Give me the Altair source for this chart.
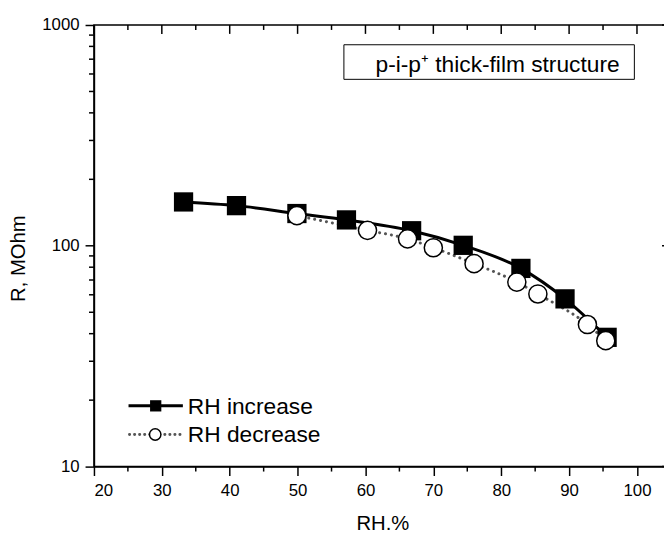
import altair as alt
import pandas as pd

# ---- data ----
inc_rh = [33.2, 41.0, 49.9, 57.2, 66.8, 74.4, 82.9, 89.4, 95.6]
inc_r = [158, 152, 140, 131, 117, 100.5, 79, 57.5, 38.5]
dec_rh = [49.9, 60.3, 66.2, 70.0, 76.0, 82.3, 85.4, 92.7, 95.4]
dec_r = [137, 117.5, 107.5, 98, 83, 68.5, 60.5, 44, 37.2]

legend_labels = ["RH increase", "RH decrease"]
box_label = "p-i-p\u207a thick-film structure"
x_title = "RH.%"
y_title = "R, MOhm"

x_major = [20, 30, 40, 50, 60, 70, 80, 90, 100]
x_minor = [25, 35, 45, 55, 65, 75, 85, 95, 105]
y_major = [10, 100, 1000]
y_minor = [20, 30, 40, 50, 60, 70, 80, 90, 200, 300, 400, 500, 600, 700, 800, 900]

W, H = 584, 447
FONT = "Liberation Sans"

xs = alt.Scale(domain=[20, 105], nice=False, zero=False)
ys = alt.Scale(type="log", domain=[10, 1000], nice=False)

inc = pd.DataFrame({"rh": inc_rh, "r": inc_r})
dec = pd.DataFrame({"rh": dec_rh, "r": dec_r})

x_axis = alt.Axis(values=x_major, format="d", tickSize=9, tickWidth=1.5, tickColor="black",
                  domainWidth=1.5, domainColor="black", grid=False,
                  labelFont=FONT, labelFontSize=17, labelColor="black", labelPadding=7,
                  title=x_title, titleFont=FONT, titleFontSize=20.5, titleFontWeight="normal",
                  titleColor="black", titleBaseline="alphabetic", titleY=64, titleX=W / 2)
y_axis = alt.Axis(values=y_major, format="d", tickSize=9, tickWidth=1.5, tickColor="black",
                  domainWidth=1.5, domainColor="black", grid=False,
                  labelFont=FONT, labelFontSize=17, labelColor="black", labelPadding=6,
                  title=y_title, titleFont=FONT, titleFontSize=20.5, titleFontWeight="normal",
                  titleColor="black", titleBaseline="alphabetic", titleAngle=270,
                  titleX=-70, titleY=236)

X = alt.X("rh:Q", scale=xs, axis=x_axis)
Y = alt.Y("r:Q", scale=ys, axis=y_axis)

# ---- minor / mirrored ticks through the scales ----
def xticks(vals, y0, y1):
    return alt.Chart(pd.DataFrame({"rh": vals})).mark_rule(color="black", strokeWidth=1.5).encode(
        x=X, y=alt.value(y0), y2=alt.value(y1))

def yticks(vals, x0, x1):
    return alt.Chart(pd.DataFrame({"r": vals})).mark_rule(color="black", strokeWidth=1.5).encode(
        y=Y, x=alt.value(x0), x2=alt.value(x1))

ticks = [
    xticks(x_minor, H, H + 5),
    xticks(x_major, 0, 9),
    xticks(x_minor, 0, 5),
    yticks(y_minor, -5, 0),
    yticks(y_major, W, W - 9),
    yticks(y_minor, W, W - 5),
]

# ---- annotation box ----
box_df = pd.DataFrame({"t": [box_label]})
box = alt.Chart(box_df).mark_rect(fill="white", stroke="black", strokeWidth=1).encode(
    x=alt.value(253), x2=alt.value(547), y=alt.value(20), y2=alt.value(55))
box_text = alt.Chart(box_df).mark_text(align="left", baseline="alphabetic", font=FONT,
                                       fontSize=23, color="black").encode(
    x=alt.value(285), y=alt.value(48), text="t:N")

# ---- data layers ----
line_dec = alt.Chart(dec).mark_line(color="#555555", strokeWidth=3, strokeDash=[0.1, 6],
                                    strokeCap="round", interpolate="monotone").encode(x=X, y=Y)
line_inc = alt.Chart(inc).mark_line(color="black", strokeWidth=3,
                                    interpolate="monotone").encode(x=X, y=Y)
pts_inc = alt.Chart(inc).mark_point(shape="square", filled=True, color="black", opacity=1,
                                    size=380).encode(x=X, y=Y)
pts_dec = alt.Chart(dec).mark_point(shape="circle", filled=True, fill="white", stroke="black",
                                    strokeWidth=1.5, fillOpacity=1, opacity=1,
                                    size=336).encode(x=X, y=Y)

# ---- legend ----
lg1 = pd.DataFrame({"label": [legend_labels[0]]})
lg2 = pd.DataFrame({"label": [legend_labels[1]]})
ly1, ly2 = 385.5, 414.5
legend = [
    alt.Chart(lg1).mark_rule(color="black", strokeWidth=3).encode(
        x=alt.value(35), x2=alt.value(90), y=alt.value(ly1)),
    alt.Chart(lg1).mark_point(shape="square", filled=True, color="black", opacity=1,
                              size=130).encode(x=alt.value(62.5), y=alt.value(ly1)),
    alt.Chart(lg1).mark_text(align="left", baseline="middle", font=FONT, fontSize=23,
                             color="black").encode(x=alt.value(95), y=alt.value(ly1 + 1), text="label:N"),
    alt.Chart(lg2).mark_rule(color="#555555", strokeWidth=3, strokeDash=[0.1, 5],
                             strokeCap="round").encode(
        x=alt.value(36), x2=alt.value(90), y=alt.value(ly2)),
    alt.Chart(lg2).mark_point(shape="circle", filled=True, fill="white", stroke="black",
                              strokeWidth=1.5, fillOpacity=1, opacity=1,
                              size=133).encode(x=alt.value(62), y=alt.value(ly2)),
    alt.Chart(lg2).mark_text(align="left", baseline="middle", font=FONT, fontSize=23,
                             color="black").encode(x=alt.value(95), y=alt.value(ly2 + 1), text="label:N"),
]

chart = alt.layer(
    line_inc, *ticks, box, box_text, line_dec, pts_inc, pts_dec, *legend
).properties(
    width=W, height=H,
    background="white",
    autosize=alt.AutoSizeParams(type="none"),
    padding={"left": 87, "top": 14, "right": -7, "bottom": 64},
).configure_view(stroke="black", strokeWidth=1.5)

chart.save("out.html", embed_options={"renderer": "svg", "actions": False})
